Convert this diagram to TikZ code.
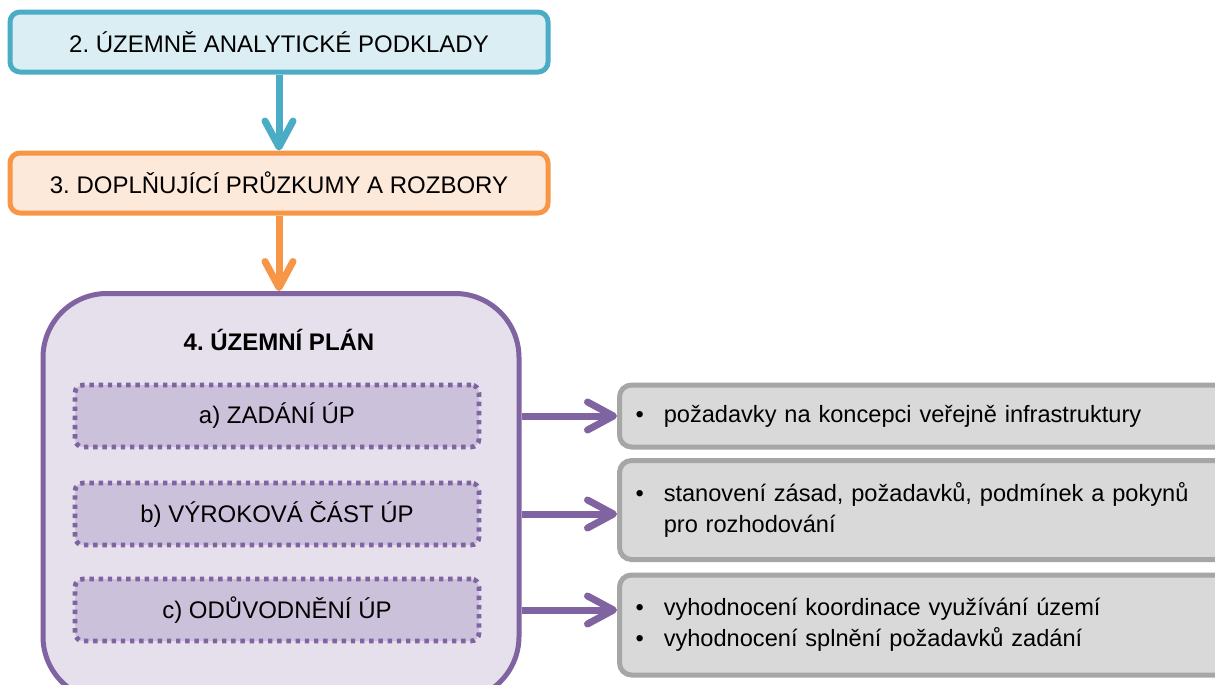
\documentclass[tikz,border=0pt]{standalone}
\usepackage{fontspec}
\setmainfont{Liberation Sans}
\usetikzlibrary{arrows.meta}
\frenchspacing

\definecolor{blueline}{HTML}{4BACC6}
\definecolor{bluefill}{HTML}{DBEEF4}
\definecolor{orangeline}{HTML}{F79646}
\definecolor{orangefill}{HTML}{FDE9DA}
\definecolor{purpleline}{HTML}{8064A2}
\definecolor{purplefill}{HTML}{E5E0EC}
\definecolor{purpleinner}{HTML}{CCC1DA}
\definecolor{greyline}{HTML}{A6A6A6}
\definecolor{greyfill}{HTML}{D9D9D9}

\newcommand{\notebullet}{\textbullet\hspace{10pt}}
\newcommand{\noteindent}{\hphantom{\textbullet}\hspace{10pt}}

\tikzstyle{stage} = [rectangle, rounded corners=5pt, minimum width=269pt, minimum height=30pt, line width=2.5pt, text centered, font=\fontsize{12}{15}\selectfont]
\tikzstyle{plan} = [rectangle, rounded corners=32pt, minimum width=238pt, minimum height=203.5pt, line width=2.5pt, draw=purpleline, fill=purplefill]
\tikzstyle{part} = [rectangle, rounded corners=4pt, minimum width=202pt, minimum height=31pt, line width=2.4pt, dash pattern=on 2.2pt off 2.4pt, draw=purpleline, fill=purpleinner, font=\fontsize{12}{15}\selectfont]
\tikzstyle{note} = [rectangle, rounded corners=6pt, anchor=west, text width=298pt, inner xsep=8pt, line width=2.5pt, draw=greyline, fill=greyfill, align=left, font=\fontsize{11.8}{15.5}\selectfont]
\tikzstyle{arrow} = [line width=3.5pt, -{Straight Barb[length=13pt,width=14pt,round]}]

\begin{document}
\begin{tikzpicture}[x=0.5pt, y=-0.5pt]

\useasboundingbox (0,0) rectangle (1215,685);
\clip (0,0) rectangle (1215,685);

\node (analysis) [stage, draw=blueline, fill=bluefill] at (279,42) {2. ÚZEMNĚ ANALYTICKÉ PODKLADY};

\node (surveys) [stage, draw=orangeline, fill=orangefill] at (279,183) {3. DOPLŇUJÍCÍ PRŮZKUMY A ROZBORY};

\node (plan) [plan] at (281,497) {};

\node (plantitle) [font=\fontsize{12}{15}\selectfont\bfseries] at (279,340) {4. ÚZEMNÍ PLÁN};

\node (assignment) [part] at (277,416) {a) ZADÁNÍ ÚP};

\node (statement) [part] at (277,514) {b) VÝROKOVÁ ČÁST ÚP};

\node (reasoning) [part] at (277,610) {c) ODŮVODNĚNÍ ÚP};

\node (assignmentnote) [note, minimum height=31pt] at (617,416) {\notebullet požadavky na koncepci veřejně infrastruktury};

\node (statementnote) [note, minimum height=49.5pt] at (617,510) {\notebullet stanovení zásad, požadavků, podmínek a pokynů\\\noteindent pro rozhodování};

\node (reasoningnote) [note, minimum height=50pt] at (617,625) {\notebullet vyhodnocení koordinace využívání území\\\notebullet vyhodnocení splnění požadavků zadání};

\draw[arrow, blueline] (analysis) -- (surveys);

\draw[arrow, orangeline] (surveys.south) -- (surveys.south |- plan.north);

\draw[arrow, purpleline] (plan.east |- assignment) -- (assignmentnote.west);

\draw[arrow, purpleline] (plan.east |- statement) -- (statement -| statementnote.west);

\draw[arrow, purpleline] (plan.east |- reasoning) -- (reasoning -| reasoningnote.west);

\end{tikzpicture}
\end{document}
